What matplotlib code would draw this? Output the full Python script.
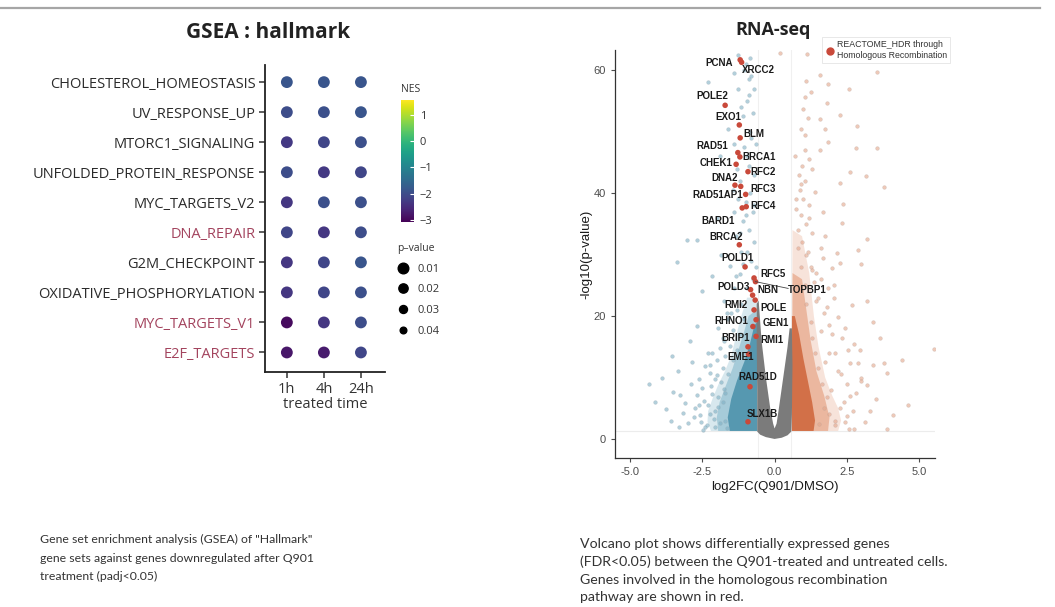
import matplotlib
matplotlib.use('Agg')
import matplotlib.pyplot as plt
from matplotlib.colors import Normalize
from matplotlib.lines import Line2D
from matplotlib.cm import ScalarMappable

W, H = 1055, 607

# ---------------- GSEA : hallmark data ----------------
pathways = ['CHOLESTEROL_HOMEOSTASIS', 'UV_RESPONSE_UP', 'MTORC1_SIGNALING',
            'UNFOLDED_PROTEIN_RESPONSE', 'MYC_TARGETS_V2', 'DNA_REPAIR',
            'G2M_CHECKPOINT', 'OXIDATIVE_PHOSPHORYLATION', 'MYC_TARGETS_V1',
            'E2F_TARGETS']
highlighted = ['DNA_REPAIR', 'MYC_TARGETS_V1', 'E2F_TARGETS']
times = ['1h', '4h', '24h']
nes_1h = [-1.85, -2.0, -2.3, -2.0, -2.35, -2.1, -2.35, -2.35, -2.95, -2.8]
nes_4h = [-1.85, -1.95, -2.1, -2.3, -1.95, -2.35, -2.1, -2.1, -2.35, -2.75]
nes_24h = [-1.85, -1.85, -1.95, -2.1, -1.95, -2.0, -1.85, -1.95, -2.0, -2.1]
pval_1h = [0.001] * 10
pval_4h = [0.001] * 10
pval_24h = [0.001] * 10
nes_ticks = [-3, -2, -1, 0, 1]
pval_levels = [0.01, 0.02, 0.03, 0.04]

# ---------------- RNA-seq volcano data ----------------
# dense non-significant V (grey), outline
grey_x = [0.0, -0.3, -0.5, -0.6, -0.6, -0.62, -0.62, -0.55, -0.45, -0.3, -0.15, -0.05, 0.0,
          0.07, 0.15, 0.3, 0.45, 0.52, 0.6, 0.62, 0.6, 0.58, 0.45, 0.25]
grey_y = [0.0, 0.3, 0.7, 1.2, 8, 16, 22, 22.5, 16, 10, 5, 2.5, 1.7,
          2.5, 5, 10, 15, 18, 18, 12, 4, 1.2, 0.6, 0.2]
# dense down-regulated cloud (outer, middle, inner density contours)
blue_out_x = [-0.6, -2.2, -2.32, -2.3, -2.15, -1.95, -1.72, -1.5, -1.32, -1.15, -0.95, -0.62]
blue_out_y = [1.3, 1.3, 2.8, 4.5, 6.5, 8.8, 11, 13.5, 17, 20, 23, 23]
blue_mid_x = [-0.6, -1.95, -2.0, -1.9, -1.7, -1.45, -1.25, -1.05, -0.9, -0.62]
blue_mid_y = [1.3, 1.3, 3.5, 6, 8.5, 11.5, 14.5, 17.5, 20, 21]
blue_in_x = [-0.6, -1.55, -1.62, -1.5, -1.3, -1.05, -0.85, -0.7, -0.6]
blue_in_y = [1.3, 1.3, 3.5, 6.5, 9.5, 12.5, 15.5, 18.5, 19]
# dense up-regulated cloud
orange_out_x = [0.6, 2.2, 2.3, 2.2, 2.0, 1.75, 1.52, 1.36, 1.2, 0.95, 0.62]
orange_out_y = [1.3, 1.3, 3, 5, 7, 10, 15, 20, 27, 33, 34]
orange_mid_x = [0.6, 1.85, 1.9, 1.72, 1.45, 1.25, 1.1, 0.95, 0.62]
orange_mid_y = [1.3, 1.3, 3.5, 7, 11, 16, 21, 26, 27]
orange_in_x = [0.6, 1.35, 1.4, 1.3, 1.15, 1.0, 0.85, 0.7, 0.6]
orange_in_y = [1.3, 1.3, 3, 6, 9.5, 13, 17, 20, 20]

# scattered down-regulated genes
down_x = [-3.38, -2.17, -2.69, -2.92, -2.4, -2.23, -2.0, -1.8, -3.52, -3.27, -2.69, -3.17,
          -3.0, -2.58, -2.47, -2.3, -2.69, -3.04, -2.3, -2.2, -2.45, -2.1, -2.35, -1.95,
          -1.85, -1.7, -1.55, -1.9, -1.45, -1.6, -1.3, -1.75, -1.4, -1.2, -1.55, -1.15,
          -1.35, -1.85, -1.1, -1.4, -1.0, -1.2, -0.9, -1.05, -0.85, -1.1, -0.95, -1.25,
          -0.9, -1.05, -0.85, -1.6, -1.9, -1.45, -2.0, -2.5, -3.9, -4.15, -3.6, -2.85,
          -2.6, -2.75, -3.35, -0.75, -0.8, -0.7, -0.9, -0.75, -0.85, -0.7, -0.95, -0.8,
          -0.75, -0.9, -0.8, -1.0, -0.7, -0.65, -0.7, -0.65, -2.05, -1.7, -2.25, -1.8,
          -2.55, -2.9, -1.65, -1.95, -2.15, -3.1,
          -2.25, -2.05, -1.95, -2.15, -1.75, -1.6, -1.45, -1.3, -1.2, -1.05, -1.15, -0.95,
          -1.7, -1.8, -1.65, -2.4, -2.6, -2.8, -2.0, -1.75, -1.5, -1.35, -1.1, -0.95,
          -1.2, -1.0, -1.25, -1.3, -1.4, -1.15, -1.4, -1.25, -3.3, -3.75, -4.35, -3.55,
          -2.3, -2.5, -2.05, -1.9]
down_y = [28.8, 26.5, 18.4, 16.0, 11.8, 10.7, 10.4, 11.5, 7.7, 7.2, 7.2, 4.2,
          2.6, 3.9, 1.5, 58.1, 32.4, 32.4, 5.5, 8.6, 6.1, 3.2, 2.2, 6.8,
          9.3, 13.5, 15.2, 14.8, 17.8, 19.5, 21.0, 22.5, 24.5, 26.8, 28.2, 30.5,
          33.0, 30.0, 35.5, 37.0, 38.5, 42.0, 44.5, 47.5, 50.0, 52.5, 55.0, 57.0,
          58.5, 60.0, 62.0, 50.5, 46.0, 40.5, 36.0, 24.0, 10.0, 6.0, 3.0, 12.5,
          9.8, 5.0, 11.0, 26.0, 29.0, 32.0, 34.0, 37.0, 40.0, 43.0, 46.0, 49.0,
          53.0, 56.0, 59.0, 61.0, 57.0, 48.0, 38.0, 28.0, 4.5, 7.5, 12.0, 16.5,
          2.8, 9.0, 20.5, 18.0, 14.0, 5.8,
          4.0, 2.0, 5.2, 7.3, 8.2, 10.5, 12.8, 14.5, 17.0, 19.5, 22.0, 24.5,
          3.0, 6.0, 1.8, 1.9, 5.6, 3.5, 12.8, 16.0, 20.5, 26.5, 28.5, 30.5,
          33.5, 36.5, 39.0, 44.0, 48.0, 54.0, 59.5, 62.5, 1.9, 4.8, 9.0, 13.5,
          14.0, 8.3, 9.8, 2.6]

# scattered up-regulated genes
up_x = [1.11, 3.54, 1.57, 1.09, 1.86, 2.59, 1.06, 1.8, 1.0, 2.27, 1.16, 1.56, 1.75,
        2.84, 1.86, 3.54, 2.8, 1.05, 1.56, 1.2, 0.95, 2.61, 3.17, 3.77, 2.27, 0.85,
        0.88, 1.4, 1.0, 1.2, 1.69, 0.9, 2.38, 2.32, 3.19, 1.1, 0.8, 1.3, 0.95, 1.6,
        2.9, 2.98, 2.15, 2.27, 1.98, 1.69, 2.67, 2.2, 2.45, 2.35, 2.0, 3.42, 3.65, 2.96,
        5.5, 4.4, 3.77, 3.42, 3.88, 2.9, 2.6, 3.19, 4.11, 3.13, 3.88, 2.59, 2.76, 0.19,
        1.35, 1.5, 1.85, 1.25, 1.7, 1.9, 2.2, 2.5, 2.4, 2.7, 2.1, 3.5, 2.8, 4.6,
        1.45, 1.1, 0.75, 0.9, 1.3, 1.05, 2.05, 1.75, 2.55, 3.0,
        2.1, 1.9, 1.8, 1.65, 1.5, 1.4, 1.3, 1.25, 1.1, 1.05, 0.9, 0.8,
        1.55, 1.7, 1.95, 1.75, 1.6, 1.45, 1.3, 1.15, 2.25, 2.45, 2.6, 2.3,
        2.1, 1.9, 1.8, 1.6, 2.5, 3.3, 3.0, 2.75, 3.2, 2.05, 1.2, 0.75,
        1.05, 0.7, 0.9, 1.25]
up_y = [62.7, 59.7, 59.2, 58.3, 57.7, 56.9, 55.7, 54.7, 53.7, 52.7, 52.2, 52.0, 50.5,
        50.9, 48.3, 47.3, 47.3, 47.0, 47.1, 45.5, 44.5, 43.5, 42.8, 41.0, 41.6, 43.0,
        40.5, 40.2, 39.0, 38.0, 37.0, 36.5, 38.3, 35.1, 32.6, 35.0, 34.0, 33.5, 32.0, 31.0,
        30.8, 28.5, 30.3, 28.6, 27.9, 29.4, 21.8, 19.8, 18.0, 16.5, 17.0, 19.1, 16.5, 14.5,
        14.7, 12.8, 12.3, 12.0, 10.7, 12.3, 12.3, 8.8, 3.9, 2.8, 1.6, 1.6, 1.6, 62.8,
        25.5, 23.0, 24.5, 28.0, 20.5, 14.0, 11.0, 9.0, 6.0, 4.5, 3.0, 6.5, 7.5, 5.5,
        27.0, 30.0, 37.5, 41.5, 44.0, 49.5, 23.0, 33.0, 14.5, 10.0,
        2.2, 4.0, 6.8, 9.0, 11.5, 14.0, 16.5, 19.0, 22.0, 25.0, 28.0, 31.0,
        2.5, 5.0, 8.0, 12.5, 17.5, 22.5, 27.5, 30.5, 5.0, 2.8, 7.0, 10.5,
        14.0, 18.5, 21.5, 26.0, 3.8, 4.6, 9.5, 15.5, 22.5, 25.0, 36.0, 39.0,
        42.0, 46.0, 50.5, 56.5]

# homologous recombination genes (red)
hr_genes = ['PCNA', 'XRCC2', 'POLE2', 'EXO1', 'BLM', 'RAD51', 'BRCA1', 'CHEK1', 'RFC2',
            'DNA2', 'RFC3', 'RAD51AP1', 'RFC4', 'BARD1', 'BRCA2', 'POLD1', 'RFC5', 'POLD3',
            'NBN', 'TOPBP1', 'RMI2', 'POLE', 'RHNO1', 'GEN1', 'BRIP1', 'RMI1', 'EME1',
            'RAD51D', 'SLX1B']
hr_x = [-1.19, -1.14, -1.71, -1.22, -1.19, -1.27, -1.2, -1.33, -0.92,
        -1.37, -1.17, -1.0, -0.98, -1.12, -1.22, -1.02, -0.71, -0.83,
        -0.76, -0.66, -0.67, -0.71, -0.75, -0.64, -0.92, -0.64, -0.9,
        -0.85, -0.92]
hr_y = [61.7, 61.3, 54.3, 51.1, 49.0, 46.6, 45.9, 44.7, 43.5,
        41.3, 41.1, 39.8, 37.8, 37.6, 31.6, 28.0, 26.2, 24.3,
        23.4, 25.6, 22.6, 21.0, 18.3, 19.4, 15.0, 16.7, 13.8,
        8.5, 2.8]

x_ticks = [-5.0, -2.5, 0.0, 2.5, 5.0]
y_ticks = [0, 20, 40, 60]

# ---------------- figure ----------------
fig = plt.figure(figsize=(W / 100, H / 100), dpi=100)
fig.patch.set_facecolor('white')

# thin grey rule across the top
fig.add_artist(Line2D([0, 1040 / W], [1 - 8 / H, 1 - 8 / H], transform=fig.transFigure,
                      color='#a6a6a6', lw=1.6))

# ===== left panel: GSEA dot plot =====
gsea_font = 'Open Sans'
norm = Normalize(vmin=-3.08, vmax=1.57)
ax1 = fig.add_axes([265 / W, 1 - 372 / H, 120 / W, 307 / H])
ypos = list(range(len(pathways), 0, -1))


def pval_size(p):
    # marker diameter (pt) shrinks with p-value, squared for scatter area
    return (8.6 - 95 * p) ** 2


for j, (nes, pv) in enumerate(zip([nes_1h, nes_4h, nes_24h], [pval_1h, pval_4h, pval_24h])):
    ax1.scatter([j + 1] * len(nes), ypos, c=nes, cmap='viridis', norm=norm,
                s=[pval_size(p) for p in pv], edgecolors='none', zorder=3)

ax1.set_xlim(0.41, 3.65)
ax1.set_ylim(0.35, 10.57)
ax1.set_xticks([1, 2, 3])
ax1.set_xticklabels(times, fontsize=10.5, family=gsea_font, color='#333333')
ax1.set_yticks(ypos)
ax1.set_yticklabels(pathways, fontsize=10.5, family=gsea_font)
for lab in ax1.get_yticklabels():
    lab.set_color('#a3445e' if lab.get_text() in highlighted else '#2b2b2b')
ax1.set_xlabel('treated time', fontsize=10.5, family=gsea_font, color='#333333', labelpad=0)
ax1.spines['top'].set_visible(False)
ax1.spines['right'].set_visible(False)
for s in ['left', 'bottom']:
    ax1.spines[s].set_linewidth(1.3)
    ax1.spines[s].set_color('#222222')
ax1.tick_params(length=4, width=1.1, color='#333333', pad=3)
fig.text(268 / W, 1 - 33 / H, 'GSEA : hallmark', ha='center', va='center',
         fontsize=15, fontweight='bold', family=gsea_font, color='#222222')

# NES colour bar
cax = fig.add_axes([401 / W, 1 - 222 / H, 13 / W, 122 / H])
cb = fig.colorbar(ScalarMappable(norm=norm, cmap='viridis'), cax=cax, ticks=nes_ticks)
cb.outline.set_visible(False)
cb.ax.tick_params(color='white', direction='in', length=3, width=0.8, labelsize=8,
                  labelcolor='#333333', pad=4)
for lab in cb.ax.get_yticklabels():
    lab.set_family(gsea_font)
fig.text(401 / W, 1 - 90 / H, 'NES', ha='left', va='center', fontsize=7.5,
         family=gsea_font, color='#333333')

# p-value size legend
handles = [Line2D([0], [0], marker='o', ls='', color='black',
                  markersize=8.6 - 95 * p) for p in pval_levels]
leg1 = fig.legend(handles, [f'{p:.2f}' for p in pval_levels], loc='upper left',
                  bbox_to_anchor=(389 / W, 1 - 235 / H), frameon=False,
                  title='p\u2013value', title_fontsize=7.5, fontsize=8,
                  alignment='left', labelspacing=0.88, handletextpad=0.7,
                  handlelength=1.2, borderpad=0.2)
for t in leg1.get_texts():
    t.set_family(gsea_font)
    t.set_color('#333333')
leg1.get_title().set_family(gsea_font)
leg1.get_title().set_color('#333333')

# ===== right panel: volcano plot =====
vfont = 'Liberation Sans'
ax2 = fig.add_axes([615 / W, 1 - 458 / H, 320 / W, 408 / H])
ax2.axhline(1.3, color='#ececec', lw=0.8, zorder=0)
ax2.axvline(0.585, color='#f0f0f0', lw=0.8, zorder=0)
ax2.axvline(-0.585, color='#f0f0f0', lw=0.8, zorder=0)

ax2.fill(blue_out_x, blue_out_y, color='#b3d3df', alpha=0.5, lw=0, zorder=1)
ax2.fill(blue_mid_x, blue_mid_y, color='#86b9cb', alpha=0.6, lw=0, zorder=1)
ax2.fill(blue_in_x, blue_in_y, color='#4e93ac', alpha=0.9, lw=0, zorder=2)
ax2.fill(orange_out_x, orange_out_y, color='#efc2ad', alpha=0.45, lw=0, zorder=1)
ax2.fill(orange_mid_x, orange_mid_y, color='#e29470', alpha=0.55, lw=0, zorder=1)
ax2.fill(orange_in_x, orange_in_y, color='#d0693f', alpha=0.9, lw=0, zorder=2)
ax2.scatter(down_x, down_y, s=7, color='#7fb0c4', alpha=0.6, edgecolors='#93a7b2',
            linewidths=0.3, zorder=2)
ax2.scatter(up_x, up_y, s=7, color='#e3a58a', alpha=0.6, edgecolors='#b9a39c',
            linewidths=0.3, zorder=2)
ax2.fill(grey_x, grey_y, color='#7b7b7b', lw=0, zorder=3)

ax2.scatter(hr_x, hr_y, s=16, color='#c9493a', edgecolors='none', zorder=4)

# gene labels (label anchor x, y, alignment)
label_pos = {
    'PCNA': (-1.44, 61.2, 'right'), 'XRCC2': (-1.12, 60.0, 'left'),
    'POLE2': (-2.14, 55.8, 'center'), 'EXO1': (-1.59, 52.4, 'center'),
    'BLM': (-1.09, 49.6, 'left'), 'RAD51': (-1.61, 47.6, 'right'),
    'BRCA1': (-1.12, 45.9, 'left'), 'CHEK1': (-1.47, 44.9, 'right'),
    'RFC2': (-0.85, 43.4, 'left'), 'DNA2': (-1.26, 42.4, 'right'),
    'RFC3': (-0.85, 40.6, 'left'), 'RAD51AP1': (-1.09, 39.7, 'right'),
    'RFC4': (-0.85, 37.9, 'left'), 'BARD1': (-1.37, 35.5, 'right'),
    'BRCA2': (-1.66, 32.8, 'center'), 'POLD1': (-1.28, 29.4, 'center'),
    'RFC5': (-0.5, 26.8, 'left'), 'POLD3': (-0.85, 24.8, 'right'),
    'NBN': (-0.6, 24.2, 'left'), 'TOPBP1': (0.47, 24.2, 'left'),
    'RMI2': (-0.92, 21.8, 'right'), 'POLE': (-0.5, 21.3, 'left'),
    'RHNO1': (-0.92, 19.2, 'right'), 'GEN1': (-0.43, 18.8, 'left'),
    'BRIP1': (-0.85, 16.4, 'right'), 'RMI1': (-0.5, 16.1, 'left'),
    'EME1': (-1.16, 13.4, 'center'), 'RAD51D': (-0.57, 10.1, 'center'),
    'SLX1B': (-0.42, 4.1, 'center'),
}
for g, gx, gy in zip(hr_genes, hr_x, hr_y):
    lx, ly, ha = label_pos[g]
    if g == 'TOPBP1':
        ax2.plot([gx, lx], [gy, ly + 0.3], color='#444444', lw=0.6, zorder=4)
    ax2.text(lx, ly, g, ha=ha, va='center', fontsize=7, fontweight='bold',
             family=vfont, color='#1a1a1a', zorder=5)

ax2.set_xlim(-5.52, 5.55)
ax2.set_ylim(-3.1, 63.3)
ax2.set_xticks(x_ticks)
ax2.set_xticklabels([f'{v:.1f}' for v in x_ticks])
ax2.set_yticks(y_ticks)
ax2.tick_params(labelsize=8, labelcolor='#4d4d4d', color='#4d4d4d', length=3, width=0.8)
for lab in ax2.get_xticklabels() + ax2.get_yticklabels():
    lab.set_family(vfont)
ax2.spines['top'].set_visible(False)
ax2.spines['right'].set_visible(False)
for s in ['left', 'bottom']:
    ax2.spines[s].set_color('#333333')
    ax2.spines[s].set_linewidth(0.9)
ax2.set_xlabel('log2FC(Q901/DMSO)', fontsize=9.5, family=vfont, color='#1a1a1a', labelpad=3)
ax2.set_ylabel('-log10(p-value)', fontsize=9.5, family=vfont, color='#1a1a1a', labelpad=1)
fig.text(773 / W, 1 - 30 / H, 'RNA-seq', ha='center', va='center', fontsize=13,
         fontweight='bold', family='Open Sans', color='#222222')

hr_handle = Line2D([0], [0], marker='o', ls='', color='#c9493a', markersize=5)
leg2 = ax2.legend([hr_handle], ['REACTOME_HDR through\nHomologous Recombination'],
                  loc='upper left', bbox_to_anchor=(818 / W, 1 - 33 / H),
                  bbox_transform=fig.transFigure, fontsize=6.3, frameon=True,
                  fancybox=False, edgecolor='#dddddd', handletextpad=0.3,
                  handlelength=1.0, borderpad=0.35)
leg2.get_frame().set_linewidth(0.6)
for t in leg2.get_texts():
    t.set_family(vfont)
    t.set_color('#333333')

# ===== captions =====
cap_font = 'Lato'
fig.text(40 / W, 1 - 534 / H,
         'Gene set enrichment analysis (GSEA) of "Hallmark"\n'
         'gene sets against genes downregulated after Q901\n'
         'treatment (padj<0.05)',
         ha='left', va='top', fontsize=8.8, family=cap_font, color='#333333',
         linespacing=1.85)
fig.text(580 / W, 1 - 538 / H,
         'Volcano plot shows differentially expressed genes\n'
         '(FDR<0.05) between the Q901-treated and untreated cells.\n'
         'Genes involved in the homologous recombination\n'
         'pathway are shown in red.',
         ha='left', va='top', fontsize=10.2, family=cap_font, color='#333333',
         linespacing=1.55)

fig.savefig('out.png', dpi=100, facecolor='white')
